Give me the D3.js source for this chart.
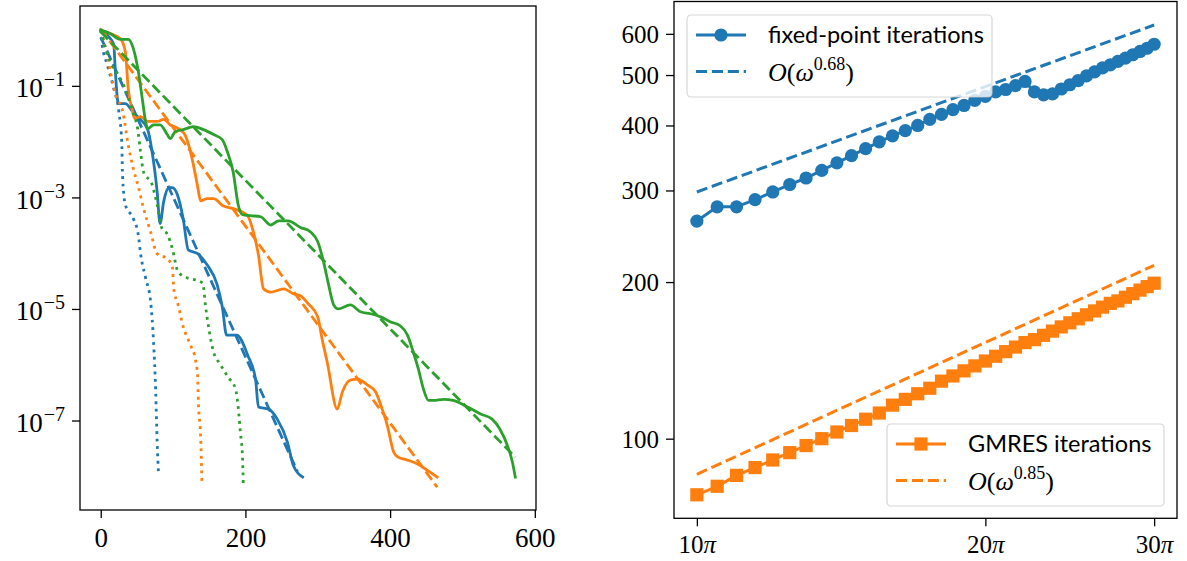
<!DOCTYPE html>
<html>
<head>
<meta charset="utf-8">
<script src="https://cdn.jsdelivr.net/npm/d3@7"></script>
<style>
  body { margin: 0; background: #fff; }
  svg { display: block; }
</style>
</head>
<body>
<script>
// ---- left panel: residual vs iteration -------------------------------
const blueSolid = [[0,1],[13,0.71],[18,0.55],[20,0.204],[23,0.059],[24,0.048],[34,0.048],[44,0.035],[51,0.028],[65,0.0164],[71,0.0066],[78,0.00126],[82,0.00034],[87,0.00084],[94,0.00149],[99,0.0015],[106,0.00112],[114,0.000415],[121,0.000115],[134,9.8e-5],[147,6.2e-5],[161,2.7e-5],[168,1.09e-5],[174,3.4e-6],[188,3.4e-6],[203,1.5e-6],[214,5.5e-7],[218,1.75e-7],[232,1.6e-7],[244,1.06e-7],[258,4.1e-8],[266,1.6e-8],[279,9.7e-9]];
const blueDashed = [[0,0.75],[272,1.2e-8]];
const blueDotted = [[0,1],[2,0.55],[9,0.24],[18,0.09],[25,0.035],[29,0.01],[30,0.0029],[32,0.0011],[34,0.00074],[45,0.00042],[52,0.00021],[55,0.0001],[62,3.6e-5],[69,1.34e-5],[73,2.56e-6],[76,3.25e-7],[78,4.1e-8],[80,1.05e-8]];

const orangeSolid = [[0,1],[13,0.87],[27,0.71],[34,0.41],[38,0.09],[44,0.035],[47,0.026],[55,0.028],[65,0.023],[78,0.023],[87,0.025],[96,0.02],[110,0.0164],[117,0.0128],[124,0.0066],[130,0.0029],[134,0.00156],[138,0.00087],[147,0.00095],[156,0.00095],[169,0.00071],[183,0.00063],[203,0.00047],[211,0.00024],[218,9.3e-5],[225,2.3e-5],[235,2.0e-5],[253,2.3e-5],[266,1.87e-5],[276,1.72e-5],[287,1.23e-5],[300,7.2e-6],[306,2.9e-6],[313,1.12e-6],[327,1.6e-7],[334,3.25e-7],[345,5.3e-7],[355,5.5e-7],[369,4.3e-7],[380,3.25e-7],[389,1.6e-7],[396,8.3e-8],[405,2.7e-8],[411,2.2e-8],[424,1.95e-8],[438,1.66e-8],[451,1.29e-8],[465,9.7e-9]];
const orangeDashed = [[0,1.05],[465,6.4e-9]];
const orangeDotted = [[0,1],[9,0.336],[20,0.073],[31,0.032],[38,0.0088],[45,0.0033],[52,0.00156],[59,0.00065],[69,0.00024],[78,9.8e-5],[92,7.9e-5],[99,5.7e-5],[101,2.3e-5],[107,1.18e-5],[114,4.8e-6],[124,2.26e-6],[131,1.22e-6],[134,6e-7],[135,2.15e-7],[138,5.5e-8],[140,6.95e-9]];

const greenSolid = [[0,1],[13,0.87],[27,0.68],[38,0.68],[45,0.47],[52,0.18],[58,0.052],[62,0.023],[65,0.017],[73,0.02],[82,0.02],[92,0.0134],[96,0.0113],[103,0.0151],[114,0.0164],[128,0.0186],[142,0.0164],[156,0.0134],[168,0.0109],[175,0.0066],[183,0.0029],[190,0.00074],[196,0.00049],[207,0.00047],[221,0.00045],[235,0.00032],[246,0.00038],[259,0.00038],[276,0.00029],[290,0.00024],[300,0.00016],[308,7e-5],[315,2.7e-5],[322,1.18e-5],[328,1.0e-5],[345,1.18e-5],[359,8.9e-6],[373,8.2e-6],[387,7.2e-6],[400,5.9e-6],[414,5.0e-6],[424,3.4e-6],[432,1.69e-6],[439,8.4e-7],[446,3.7e-7],[453,2.3e-7],[460,2.3e-7],[474,2.4e-7],[487,2.3e-7],[507,1.75e-7],[525,1.31e-7],[541,1.06e-7],[552,6.9e-8],[562,3.6e-8],[569,1.8e-8],[573,9.7e-9]];
const greenDashed = [[0,0.93],[573,2.2e-8]];
const greenDotted = [[0,1],[13,0.273],[27,0.135],[37,0.07],[44,0.035],[51,0.017],[55,0.0066],[59,0.0029],[71,0.0017],[78,0.00074],[85,0.00027],[92,0.00022],[99,0.00012],[107,4.6e-5],[120,3.6e-5],[131,3.3e-5],[141,2.9e-5],[145,1.09e-5],[149,4.8e-6],[156,1.69e-6],[165,1.03e-6],[176,6e-7],[186,3.8e-7],[190,1.75e-7],[193,6.2e-8],[196,2.2e-8],[197,7.2e-9]];

const leftXTicks = [0, 200, 400, 600];
const leftYTicks = [1e-1, 1e-3, 1e-5, 1e-7];

// ---- right panel: iterations vs omega (in units of pi) ---------------
const omegaOverPi = [10,10.5,11,11.5,12,12.5,13,13.5,14,14.5,15,15.5,16,16.5,17,17.5,18,18.5,19,19.5,20,20.5,21,21.5,22,22.5,23,23.5,24,24.5,25,25.5,26,26.5,27,27.5,28,28.5,29,29.5,30];
const fixedPointIts = [262,279,279,288,298,308,317,328,339,350,361,372,382,391,400,411,420,429,437,447,455,464,469,477,486,464,458,460,470,479,488,498,507,516,523,531,539,547,555,563,573];
const gmresIts = [78,81,85,88,91,94,97,100,103,106,109,112,116,119,122,125,129,132,135,138,141,144,147,150,153,155,158,161,164,167,170,173,176,179,182,184,187,190,193,196,199];
// power-law guide lines, value at first and last omega
const fixedFitEnds = [298, 624];
const gmresFitEnds = [85.4, 215.4];
const fixedFitLabel = ['O', '(', 'ω', '0.68', ')'];
const gmresFitLabel = ['O', '(', 'ω', '0.85', ')'];
const rightXTicks = [10, 20, 30];
const rightYTicks = [100, 200, 300, 400, 500, 600];

const W = 1187, H = 561;
const C = { blue: '#1f77b4', orange: '#ff7f0e', green: '#2ca02c' };
const SERIF = '"Liberation Serif", "DejaVu Serif", serif';
const SANS = 'Lato, "Open Sans", sans-serif';

const svg = d3.select('body').append('svg')
  .attr('width', W).attr('height', H)
  .attr('viewBox', `0 0 ${W} ${H}`);

// matplotlib-like 5% autoscale margin, on a log axis in log space
function padLinear(ext) {
  const p = (ext[1] - ext[0]) * 0.05;
  return [ext[0] - p, ext[1] + p];
}
function padLog(ext) {
  const a = Math.log10(ext[0]), b = Math.log10(ext[1]);
  const p = (b - a) * 0.05;
  return [Math.pow(10, a - p), Math.pow(10, b + p)];
}

// ======================= LEFT PANEL =======================
{
  const box = { x0: 80, x1: 536, y0: 6, y1: 510 };
  const series = [
    { d: blueSolid, c: C.blue, s: 'solid' },
    { d: blueDashed, c: C.blue, s: 'dashed' },
    { d: blueDotted, c: C.blue, s: 'dotted' },
    { d: orangeSolid, c: C.orange, s: 'solid' },
    { d: orangeDashed, c: C.orange, s: 'dashed' },
    { d: orangeDotted, c: C.orange, s: 'dotted' },
    { d: greenSolid, c: C.green, s: 'solid' },
    { d: greenDashed, c: C.green, s: 'dashed' },
    { d: greenDotted, c: C.green, s: 'dotted' },
  ];
  const all = series.flatMap((s) => s.d);
  const x = d3.scaleLinear()
    .domain(padLinear(d3.extent(all, (d) => d[0])))
    .range([box.x0, box.x1]);
  const y = d3.scaleLog()
    .domain(padLog(d3.extent(all, (d) => d[1])))
    .range([box.y1, box.y0]);

  const g = svg.append('g');
  const lw = 2.8;
  const line = d3.line().x((d) => x(d[0])).y((d) => y(d[1])).curve(d3.curveMonotoneX);

  series.forEach((s) => {
    g.append('path')
      .attr('d', line(s.d))
      .attr('fill', 'none')
      .attr('stroke', s.c)
      .attr('stroke-width', lw)
      .attr('stroke-linejoin', 'round')
      .attr('stroke-linecap', s.s === 'solid' ? 'square' : 'butt')
      .attr('stroke-dasharray',
        s.s === 'dashed' ? `${3.7 * lw} ${1.6 * lw}` :
        s.s === 'dotted' ? `${1 * lw} ${1.65 * lw}` : null);
  });

  // axes
  const xAxis = g.append('g')
    .attr('transform', `translate(0,${box.y1})`)
    .call(d3.axisBottom(x).tickValues(leftXTicks).tickSize(8).tickSizeOuter(0));
  xAxis.selectAll('.tick text')
    .attr('y', 37).attr('dy', null)
    .attr('font-family', SERIF).attr('font-size', 27).attr('fill', '#000');

  const yAxis = g.append('g')
    .attr('transform', `translate(${box.x0},0)`)
    .call(d3.axisLeft(y).tickValues(leftYTicks).tickSize(8).tickSizeOuter(0).tickFormat(() => ''));
  yAxis.selectAll('.tick text').each(function (d) {
    const t = d3.select(this)
      .attr('x', -15).attr('y', 11).attr('dy', null)
      .attr('font-family', SERIF).attr('fill', '#000').attr('text-anchor', 'end');
    t.append('tspan').attr('font-size', 27).text('10');
    t.append('tspan').attr('font-size', 20).attr('dy', -11).attr('dx', 1)
      .text('\u2212' + Math.round(-Math.log10(d)));
  });

  [xAxis, yAxis].forEach((a) => {
    a.select('.domain').remove();
    a.selectAll('.tick line').attr('stroke', '#000').attr('stroke-width', 1.3);
  });

  g.append('rect')
    .attr('x', box.x0).attr('y', box.y0)
    .attr('width', box.x1 - box.x0).attr('height', box.y1 - box.y0)
    .attr('fill', 'none').attr('stroke', '#000').attr('stroke-width', 1.3);
}

// ======================= RIGHT PANEL =======================
{
  const box = { x0: 674, x1: 1177, y0: 1.5, y1: 518.3 };
  const omega = omegaOverPi.map((k) => k * Math.PI);
  const fixedPts = omega.map((w, i) => [w, fixedPointIts[i]]);
  const gmresPts = omega.map((w, i) => [w, gmresIts[i]]);
  const wEnds = [omega[0], omega[omega.length - 1]];
  const fixedFit = wEnds.map((w, i) => [w, fixedFitEnds[i]]);
  const gmresFit = wEnds.map((w, i) => [w, gmresFitEnds[i]]);

  const allY = [...fixedPointIts, ...gmresIts, ...fixedFitEnds, ...gmresFitEnds];
  const x = d3.scaleLog().domain(padLog(d3.extent(omega))).range([box.x0, box.x1]);
  const y = d3.scaleLog().domain(padLog(d3.extent(allY))).range([box.y1, box.y0]);

  const g = svg.append('g');
  const lw = 3;
  const line = d3.line().x((d) => x(d[0])).y((d) => y(d[1]));
  const dash = `${3.7 * lw} ${1.6 * lw}`;

  // fixed-point iterations (circles)
  g.append('path').attr('d', line(fixedPts))
    .attr('fill', 'none').attr('stroke', C.blue).attr('stroke-width', lw);
  g.selectAll('circle.fp').data(fixedPts).join('circle')
    .attr('cx', (d) => x(d[0])).attr('cy', (d) => y(d[1])).attr('r', 6.6)
    .attr('fill', C.blue);
  g.append('path').attr('d', line(fixedFit))
    .attr('fill', 'none').attr('stroke', C.blue).attr('stroke-width', lw)
    .attr('stroke-dasharray', dash);

  // GMRES iterations (squares)
  g.append('path').attr('d', line(gmresPts))
    .attr('fill', 'none').attr('stroke', C.orange).attr('stroke-width', lw);
  g.selectAll('rect.gm').data(gmresPts).join('rect')
    .attr('x', (d) => x(d[0]) - 6.6).attr('y', (d) => y(d[1]) - 6.6)
    .attr('width', 13.2).attr('height', 13.2)
    .attr('fill', C.orange);
  g.append('path').attr('d', line(gmresFit))
    .attr('fill', 'none').attr('stroke', C.orange).attr('stroke-width', lw)
    .attr('stroke-dasharray', dash);

  // axes
  const xAxis = g.append('g')
    .attr('transform', `translate(0,${box.y1})`)
    .call(d3.axisBottom(x).tickValues(rightXTicks.map((k) => k * Math.PI))
      .tickSize(8).tickSizeOuter(0).tickFormat(() => ''));
  xAxis.selectAll('.tick text').each(function (d, i) {
    const t = d3.select(this).attr('y', 35).attr('dy', null)
      .attr('font-family', SERIF).attr('font-size', 25).attr('fill', '#000');
    t.append('tspan').text(rightXTicks[i]);
    t.append('tspan').attr('font-style', 'italic').text('π');
  });

  const yAxis = g.append('g')
    .attr('transform', `translate(${box.x0},0)`)
    .call(d3.axisLeft(y).tickValues(rightYTicks).tickSize(8).tickSizeOuter(0)
      .tickFormat(d3.format('d')));
  yAxis.selectAll('.tick text')
    .attr('x', -15).attr('y', 8.5).attr('dy', null)
    .attr('font-family', SERIF).attr('font-size', 25).attr('fill', '#000');

  [xAxis, yAxis].forEach((a) => {
    a.select('.domain').remove();
    a.selectAll('.tick line').attr('stroke', '#000').attr('stroke-width', 1.3);
  });

  g.append('rect')
    .attr('x', box.x0).attr('y', box.y0)
    .attr('width', box.x1 - box.x0).attr('height', box.y1 - box.y0)
    .attr('fill', 'none').attr('stroke', '#000').attr('stroke-width', 1.3);

  // legends
  function legend(x0, y0, w, h, color, marker, label, fitLabel) {
    const lg = g.append('g').attr('transform', `translate(${x0},${y0})`);
    lg.append('rect').attr('width', w).attr('height', h).attr('rx', 4)
      .attr('fill', '#fff').attr('fill-opacity', 0.8)
      .attr('stroke', '#ccc').attr('stroke-opacity', 0.8).attr('stroke-width', 1.2);
    const rows = [20, 56.5];
    lg.append('line').attr('x1', 9).attr('x2', 59).attr('y1', rows[0]).attr('y2', rows[0])
      .attr('stroke', color).attr('stroke-width', lw);
    if (marker === 'circle') {
      lg.append('circle').attr('cx', 34).attr('cy', rows[0]).attr('r', 6.6).attr('fill', color);
    } else {
      lg.append('rect').attr('x', 34 - 6.6).attr('y', rows[0] - 6.6)
        .attr('width', 13.2).attr('height', 13.2).attr('fill', color);
    }
    lg.append('line').attr('x1', 9).attr('x2', 59).attr('y1', rows[1]).attr('y2', rows[1])
      .attr('stroke', color).attr('stroke-width', lw).attr('stroke-dasharray', dash);
    lg.append('text').attr('x', 81).attr('y', rows[0] + 8)
      .attr('font-family', SANS).attr('font-size', 23.5).attr('fill', '#000')
      .text(label);
    const t = lg.append('text').attr('x', 81).attr('y', rows[1] + 9)
      .attr('font-family', SERIF).attr('font-size', 26).attr('fill', '#000');
    t.append('tspan').attr('font-style', 'italic').text(fitLabel[0]);
    t.append('tspan').text(fitLabel[1]);
    t.append('tspan').attr('font-style', 'italic').text(fitLabel[2]);
    t.append('tspan').attr('font-size', 18).attr('dy', -11).text(fitLabel[3]);
    t.append('tspan').attr('dy', 11).text(fitLabel[4]);
  }
  legend(687, 15, 305, 82, C.blue, 'circle', 'fixed-point iterations', fixedFitLabel);
  legend(887, 424, 277, 82, C.orange, 'square', 'GMRES iterations', gmresFitLabel);
}
</script>
</body>
</html>
